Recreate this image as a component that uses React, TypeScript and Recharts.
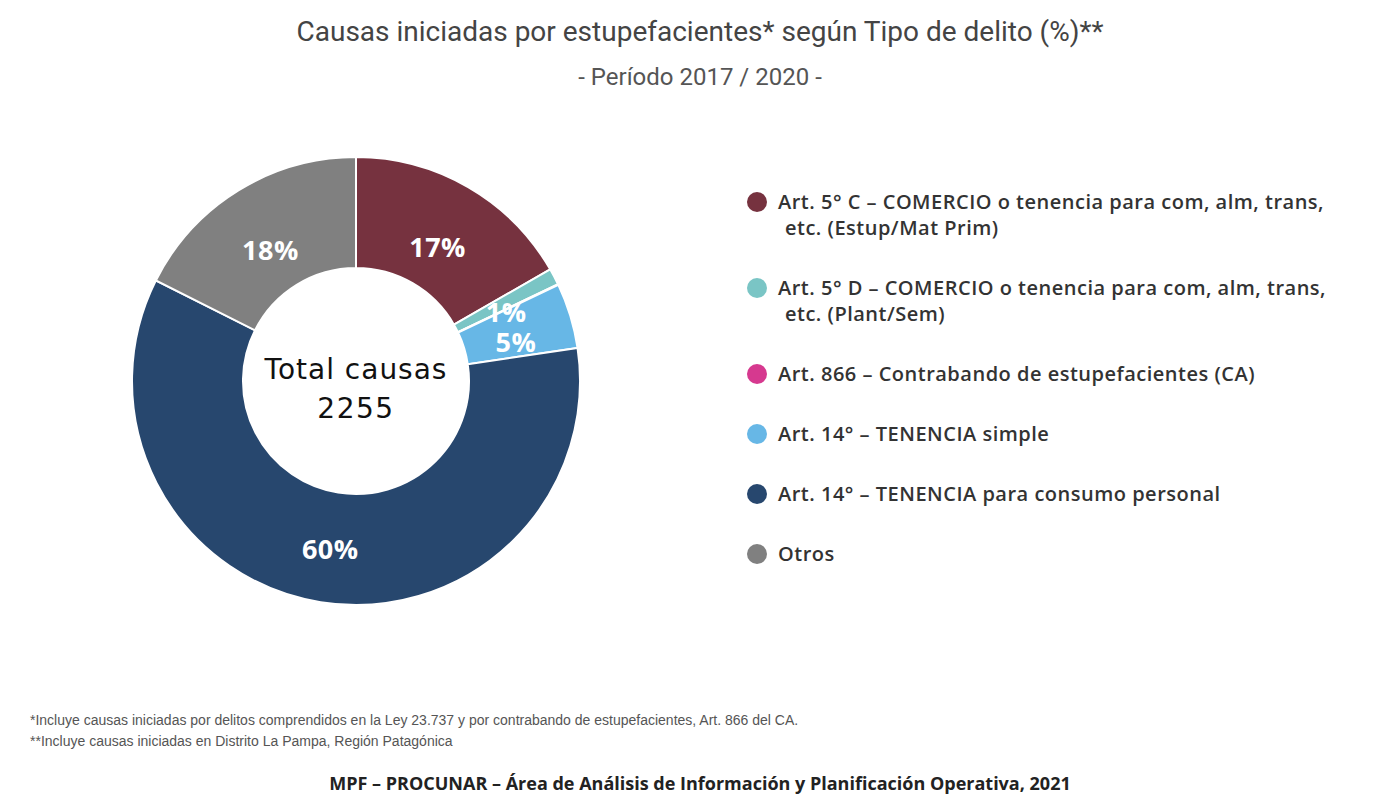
import React from 'react';
import { PieChart, Pie, Cell, Legend } from 'recharts';

// Share of each crime type (%), read from the donut
const categories = [
  'Art. 5° C – COMERCIO o tenencia para com, alm, trans, etc. (Estup/Mat Prim)',
  'Art. 5° D – COMERCIO o tenencia para com, alm, trans, etc. (Plant/Sem)',
  'Art. 866 – Contrabando de estupefacientes (CA)',
  'Art. 14° – TENENCIA simple',
  'Art. 14° – TENENCIA para consumo personal',
  'Otros',
];
const legendLines = [
  ['Art. 5° C – COMERCIO o tenencia para com, alm, trans,', 'etc. (Estup/Mat Prim)'],
  ['Art. 5° D – COMERCIO o tenencia para com, alm, trans,', 'etc. (Plant/Sem)'],
  ['Art. 866 – Contrabando de estupefacientes (CA)'],
  ['Art. 14° – TENENCIA simple'],
  ['Art. 14° – TENENCIA para consumo personal'],
  ['Otros'],
];
const shares = [16.7, 1.2, 0.05, 4.7, 59.8, 17.6];
const colors = ['#76323F', '#7AC5C5', '#D6398F', '#67B7E6', '#27476E', '#808080'];
const totalCausas = 2255;

const data = categories.map((name, i) => ({ name, value: shares[i] }));

const CX = 356;
const CY = 381;
const RADIAN = Math.PI / 180;

const renderLabel = (props: any) => {
  const { cx, cy, midAngle, innerRadius, outerRadius, value, index } = props;
  if (value < 0.5) return null;
  const r = innerRadius + (outerRadius - innerRadius) * 0.45;
  let x = cx + r * Math.cos(-midAngle * RADIAN);
  let y = cy + r * Math.sin(-midAngle * RADIAN) + 7;
  // the two thin slices sit a bit further out in the original
  if (index === 1) { x += 6; y -= 1; }
  if (index === 3) { x += 4; y += 1; }
  return (
    <text
      x={x}
      y={y}
      fill="#ffffff"
      textAnchor="middle"
      dominantBaseline="central"
      letterSpacing={0.5}
      style={{ fontFamily: '"Open Sans", "DejaVu Sans", sans-serif', fontWeight: 700, fontSize: 27 }}
    >
      {`${Math.round(value)}%`}
    </text>
  );
};

const CustomLegend = () => (
  <div style={{ fontFamily: '"Open Sans", "Noto Sans", sans-serif', fontSize: 20, fontWeight: 600, color: '#333', letterSpacing: 0.5 }}>
    {legendLines.map((lines, i) => (
      <div key={i} style={{ display: 'flex', alignItems: 'flex-start', marginBottom: 34 }}>
        <span
          style={{
            width: 20,
            height: 20,
            borderRadius: '50%',
            background: colors[i],
            display: 'inline-block',
            marginTop: 3,
            marginRight: 11,
            flexShrink: 0,
          }}
        />
        <div style={{ lineHeight: '26px' }}>
          {lines.map((l, j) => (
            <div key={j} style={{ paddingLeft: j > 0 ? 7 : 0 }}>{l}</div>
          ))}
        </div>
      </div>
    ))}
  </div>
);

export default function App() {
  return (
    <div style={{ position: 'absolute', left: 0, top: 0, width: 1400, height: 800, background: '#fff' }}>
      <div
        style={{
          position: 'absolute',
          top: 15,
          width: 1400,
          textAlign: 'center',
          fontFamily: 'Roboto, sans-serif',
          fontSize: 28,
          color: '#444',
        }}
      >
        Causas iniciadas por estupefacientes* según Tipo de delito (%)**
      </div>
      <div
        style={{
          position: 'absolute',
          top: 63,
          width: 1400,
          textAlign: 'center',
          fontFamily: 'Roboto, sans-serif',
          fontSize: 24,
          color: '#555',
        }}
      >
        - Período 2017 / 2020 -
      </div>
      <div style={{ position: 'absolute', left: 0, top: 0 }}>
        <PieChart width={1400} height={800} margin={{ top: 0, right: 0, bottom: 0, left: 0 }}>
          <Pie
            data={data}
            dataKey="value"
            nameKey="name"
            cx={CX}
            cy={CY}
            innerRadius={113}
            outerRadius={224}
            startAngle={90}
            endAngle={-270}
            stroke="#ffffff"
            strokeWidth={2}
            label={renderLabel}
            labelLine={false}
            isAnimationActive={false}
          >
            {data.map((d, i) => (
              <Cell key={d.name} fill={colors[i]} />
            ))}
          </Pie>
          <g style={{ fontFamily: '"DejaVu Sans", sans-serif', fontSize: 28 }}>
            <text x={CX} y={CY - 12} textAnchor="middle" dominantBaseline="central" fill="#111" letterSpacing={1}>
              Total causas
            </text>
            <text x={CX} y={CY + 27} textAnchor="middle" dominantBaseline="central" fill="#111" letterSpacing={1.5}>
              {totalCausas}
            </text>
          </g>
          <Legend
            content={<CustomLegend />}
            layout="vertical"
            wrapperStyle={{ position: 'absolute', left: 747, top: 189, width: 640 }}
          />
        </PieChart>
      </div>
      <div
        style={{
          position: 'absolute',
          left: 30,
          top: 710,
          fontFamily: '"Liberation Sans", Arial, sans-serif',
          fontSize: 14,
          color: '#555',
          lineHeight: '21px',
        }}
      >
        <div>*Incluye causas iniciadas por delitos comprendidos en la Ley 23.737 y por contrabando de estupefacientes, Art. 866 del CA.</div>
        <div>**Incluye causas iniciadas en Distrito La Pampa, Región Patagónica</div>
      </div>
      <div
        style={{
          position: 'absolute',
          top: 771,
          width: 1400,
          textAlign: 'center',
          fontFamily: '"Open Sans", "Noto Sans", sans-serif',
          fontSize: 18,
          fontWeight: 700,
          color: '#222',
        }}
      >
        MPF – PROCUNAR – Área de Análisis de Información y Planificación Operativa, 2021
      </div>
    </div>
  );
}
